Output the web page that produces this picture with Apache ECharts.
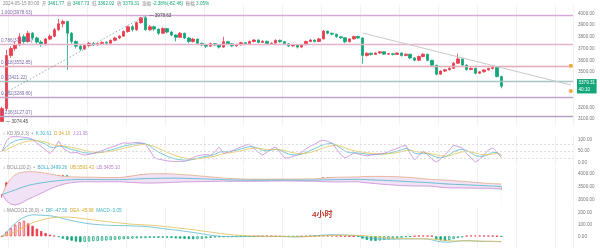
<!DOCTYPE html>
<html><head><meta charset="utf-8">
<script src="https://cdn.jsdelivr.net/npm/echarts/dist/echarts.min.js"></script>
<style>html,body{margin:0;padding:0;background:#fff}#c{width:600px;height:248px}</style>
</head><body><div id="c"></div>
<script>
// ---------- DATA ----------
// candles: [open, close, low, high]
const candles = [
[3080,3190,3074.45,3205],[3190,3640,3170,3690],[3640,3700,3620,3720],[3700,3730,3680,3760],[3730,3800,3720,3830],
[3800,3760,3740,3820],[3760,3830,3750,3850],[3830,3790,3770,3840],[3790,3755,3740,3800],[3755,3735,3715,3770],
[3735,3780,3725,3790],[3780,3805,3770,3820],[3805,3860,3795,3875],[3860,3910,3850,3950],[3910,3930,3880,3945],
[3930,3830,3520,3935],[3830,3760,3740,3840],[3760,3720,3700,3770],[3720,3695,3680,3730],[3695,3725,3690,3735],
[3725,3745,3715,3755],[3745,3730,3720,3755],[3730,3742,3725,3750],[3742,3752,3735,3760],[3752,3745,3738,3762],
[3745,3770,3740,3778],[3770,3790,3762,3800],[3790,3805,3780,3815],[3805,3845,3800,3855],[3845,3885,3835,3895],
[3885,3860,3845,3900],[3860,3920,3850,3930],[3920,3962,3910,3970],[3962,3860,3850,3978.63],[3860,3885,3850,3900],
[3885,3865,3850,3895],[3865,3830,3815,3870],[3830,3870,3825,3880],[3870,3840,3830,3875],[3840,3815,3805,3850],
[3815,3795,3760,3820],[3795,3830,3790,3840],[3830,3790,3780,3835],[3790,3760,3745,3795],[3760,3780,3750,3790],
[3780,3745,3735,3785],[3745,3730,3720,3750],[3730,3720,3705,3740],[3720,3742,3715,3750],[3742,3730,3720,3748],
[3730,3712,3700,3735],[3712,3758,3705,3800],[3758,3740,3730,3765],[3740,3722,3712,3745],[3722,3732,3715,3740],
[3732,3750,3725,3758],[3750,3740,3733,3756],[3740,3760,3735,3768],[3760,3772,3752,3780],[3772,3752,3745,3778],
[3752,3762,3748,3770],[3762,3742,3735,3766],[3742,3746,3735,3752],[3746,3770,3740,3778],[3770,3758,3750,3775],
[3758,3740,3730,3762],[3740,3722,3712,3745],[3722,3732,3715,3738],[3732,3712,3700,3736],[3712,3732,3708,3740],
[3732,3760,3728,3768],[3760,3772,3752,3780],[3772,3760,3752,3778],[3760,3782,3755,3790],[3782,3848,3778,3858],
[3848,3830,3820,3852],[3830,3822,3812,3835],[3822,3800,3792,3826],[3800,3792,3780,3806],[3792,3758,3745,3795],
[3758,3782,3752,3788],[3782,3802,3776,3810],[3802,3790,3782,3808],[3790,3640,3570,3795],[3640,3660,3632,3668],
[3660,3650,3640,3664],[3650,3662,3645,3668],[3662,3672,3655,3678],[3672,3652,3645,3676],[3652,3656,3645,3662],
[3656,3650,3642,3660],[3650,3662,3645,3668],[3662,3640,3632,3666],[3640,3652,3635,3658],[3652,3620,3610,3655],
[3620,3600,3592,3626],[3600,3632,3596,3640],[3632,3652,3626,3660],[3652,3600,3592,3656],[3600,3558,3548,3605],
[3558,3482,3472,3562],[3482,3508,3476,3515],[3508,3520,3500,3528],[3520,3532,3514,3540],[3532,3575,3528,3585],
[3575,3612,3570,3655],[3612,3560,3552,3616],[3560,3522,3512,3565],[3522,3532,3515,3538],[3532,3490,3480,3536],
[3490,3502,3484,3508],[3502,3518,3496,3524],[3518,3530,3512,3536],[3530,3540,3522,3550],[3540,3461.77,3455,3545],
[3461.77,3379.31,3362.02,3467.73]
];
const kdjK = [50,70,85,95,100,102,102,100,95,88, 80,68,64,72,70,64,57,53,48,43, 41,41,43,46,50,55,60,66,72,76,
 79,82,83,82,73,58,46,37,28,21, 16,13,11,11,14,19,24,28,30,36, 46,48,48,50,54,59,65,70,68,62,
 54,51,54,58,55,45,37,34,33,37, 44,53,61,70,78,82,83,76,63,49, 43,43,42,40,37,36,36,37,38,41,
 45,50,56,62,55,41,38,41,39,32, 24,21,25,34,47,55,58,53,43,31, 27,29,36,45,44,30.61];
const kdjD = [50,57,66,75,83,89,93,95,95,93, 89,82,76,75,73,70,66,62,58,53, 49,46,45,45,47,49,53,57,62,67,
 71,75,78,79,77,70,62,54,45,37, 30,24,20,17,16,17,19,22,25,28, 34,39,42,45,48,51,56,61,63,63,
 60,57,56,57,56,53,48,43,40,39, 41,45,50,57,64,70,74,75,71,64, 57,52,49,46,43,41,39,38,38,39,
 41,44,48,53,54,50,46,44,42,39, 34,30,28,30,36,42,47,49,47,42, 37,34,35,38,40,34.10];
const kdjJ = [50,95,112,113,112,110,108,100,85,70, 55,40,60,94,64,50,42,45,38,33, 36,40,46,52,60,66,72,80,86,84,
 86,88,86,80,55,22,15,12,8,6, 5,6,5,12,22,30,33,35,32,48, 68,40,45,52,60,68,76,80,62,45,
 33,45,60,68,45,22,20,28,33,45, 60,72,80,92,98,92,85,60,35,20, 30,42,38,33,30,33,36,38,40,48,
 55,62,70,76,40,12,30,50,35,15, 3,15,35,55,76,70,64,40,20,3, 15,35,55,64,45,21.95];
const bollMid = [3190,3250,3310,3370,3430,3490,3540,3580,3610,3640, 3665,3690,3710,3725,3740,3750,3760,3765,3770,3772,
 3770,3768,3766,3765,3764,3763,3763,3764,3768,3775, 3782,3790,3798,3804,3808,3812,3815,3818,3820,3821,
 3820,3818,3815,3810,3805,3800,3794,3788,3782,3776, 3770,3764,3758,3752,3748,3745,3743,3742,3742,3742,
 3743,3744,3745,3746,3747,3748,3748,3747,3746,3745, 3745,3746,3748,3751,3755,3759,3762,3765,3767,3769,
 3771,3773,3775,3770,3764,3757,3750,3742,3735,3727, 3720,3712,3703,3694,3685,3675,3668,3660,3650,3640,
 3628,3615,3602,3592,3584,3578,3572,3565,3557,3548, 3540,3532,3524,3516,3508,3499.26];
const bollUB = [3190,3560,3800,3950,4030,4060,4070,4068,4060,4040, 4010,3980,3950,3920,3895,3880,3870,3865,3862,3860,
 3858,3856,3852,3848,3845,3843,3842,3845,3860,3885, 3910,3935,3960,3975,3985,3990,3992,3992,3990,3985,
 3975,3965,3950,3940,3930,3915,3900,3885,3870,3855, 3840,3825,3815,3805,3795,3790,3786,3784,3783,3782,
 3782,3782,3782,3783,3784,3785,3786,3786,3786,3786, 3787,3790,3795,3805,3825,3840,3850,3855,3858,3860,
 3862,3864,3866,3880,3885,3888,3890,3890,3888,3886, 3882,3876,3868,3858,3846,3832,3816,3800,3784,3770,
 3765,3758,3748,3736,3722,3710,3700,3690,3675,3660, 3645,3630,3620,3610,3602,3593.42];
const bollLB = [3190,2940,2820,2790,2830,2920,3010,3092,3160,3240, 3320,3400,3470,3530,3585,3620,3650,3665,3678,3684,
 3682,3680,3680,3682,3683,3683,3684,3683,3676,3665, 3654,3645,3636,3633,3631,3634,3638,3644,3650,3657,
 3665,3671,3680,3680,3680,3685,3688,3691,3694,3697, 3700,3703,3701,3699,3701,3700,3700,3700,3701,3702,
 3704,3706,3708,3709,3710,3711,3710,3708,3706,3704, 3703,3702,3701,3697,3685,3678,3674,3675,3676,3678,
 3680,3682,3684,3660,3643,3626,3610,3594,3582,3568, 3558,3548,3538,3530,3524,3518,3520,3520,3516,3510,
 3491,3472,3456,3448,3446,3446,3444,3440,3439,3436, 3435,3434,3428,3422,3414,3405.10];
const macdDIF = [0,35,75,110,140,162,176,183,182,180, 178,175,170,162,152,142,134,126,119,113, 107,103,100,97,95,93,92,91,91,90,
 88,87,86,84,80,76,71,66,61,57, 53,48,43,38,33,27,21,15,9,4, 1,-1,-2,-3,-3,-3,-2,-2,-1,-1,
 -1,-2,-2,-1,-2,-3,-4,-5,-5,-4, -2,1,4,7,10,12,13,13,12,10, 8,7,5,-4,-12,-18,-22,-24,-25,-25,
 -25,-24,-23,-22,-22,-22,-21,-21,-23,-30, -40,-47,-50,-50,-46,-41,-38,-37,-38,-41, -43,-44,-44,-44,-45,-47.50];
const macdDEA = [0,7,20,38,58,79,98,115,128,139, 148,155,160,163,165,164,162,158,154,150, 145,140,135,130,126,122,118,114,110,106,
 103,101,99,97,95,92,89,85,81,77, 73,69,65,60,56,51,46,41,36,31, 26,21,17,13,10,7,5,3,2,1,
 0,0,-1,-1,-1,-2,-2,-3,-3,-3, -3,-2,-1,1,3,5,7,8,9,9, 9,9,8,6,3,0,-4,-8,-11,-14,
 -16,-18,-19,-20,-21,-21,-22,-22,-22,-24, -27,-31,-35,-38,-40,-40,-40,-40,-40,-40, -41,-42,-42,-43,-44,-45.98];
const macdHist = [0,40,70,100,120,133,110,90,65,45, 28,14,5,-5,-20,-30,-38,-45,-50,-48, -45,-42,-40,-38,-36,-33,-30,-28,-25,-22,
 -20,-18,-16,-15,-14,-13,-13,-12,-12,-15, -18,-20,-22,-24,-25,-24,-22,-18,-14,-10, -8,-6,-5,-3,-2,-2,-1,-1,0,1,
 1,2,2,1,0,-1,-2,-2,-1,0, 2,4,6,8,8,7,6,5,3,2, 1,0,-2,-20,-30,-38,-40,-36,-30,-26,
 -22,-18,-12,-6,-3,2,4,5,4,2, -25,-35,-40,-32,-24,-15,-8,4,6,7, 6,5,4,3,2,-3.05];
const fibRatios = ['1.000','0.786','0.618','0.5','0.382','0.236'];
const fibValues = [3978.63, 3740.13, 3552.85, 3421.22, 3289.80, 3127.07];
const peakValue = 3978.63, peakIndex = 33;
const lowValue = 3074.45, lowIndex = 0;
const lastPrice = 3379.31, countdown = '40:10';
const swingStart = [0, 3310], swingEnd = [33, 3978.63];
const trendStart = [83, 3832], trendEnd = [131, 3390];
const alertValues = [3552.85, 3340];
const slotCount = 132;
const categories = Array.from({length: slotCount}, (_, i) => 'T' + i);

// ---------- STYLE ----------
const RED = '#ea3c4c', GREEN = '#14a67b';
const FS = 4.6;
const FF = '"Liberation Sans", "Noto Sans CJK SC", sans-serif';
const fibColors = ['#d8a8da', '#e6b3cc', '#e4adb5', '#a9c2c2', '#c3a4cc', '#b99ec4'];
const grids = [
  {left: 0, right: 27, top: 5, height: 120},
  {left: 0, right: 27, top: 135, height: 30},
  {left: 0, right: 27, top: 167, height: 39},
  {left: 0, right: 27, top: 207, height: 42}
];
const xAxes = grids.map((g, i) => ({
  gridIndex: i, type: 'category', data: categories, boundaryGap: true,
  axisLine: {show: false}, axisTick: {show: false}, axisLabel: {show: false},
  splitLine: {show: true, interval: (idx) => (idx - 2) % 9 === 0, lineStyle: {color: '#f1f1f1', width: 1}}
}));
function yAx(gi, min, max, interval, shown) {
  return {
    gridIndex: gi, type: 'value', position: 'right', min, max, interval,
    axisLine: {show: false}, axisTick: {show: false}, splitLine: {show: false},
    axisLabel: {fontSize: FS, fontFamily: FF, color: '#777', margin: 5,
      formatter: v => shown.indexOf(Math.round(v)) >= 0 ? v.toFixed(2) : ''}
  };
}
const yAxes = [
  yAx(0, 3050, 4070, 10, [3100, 3200, 3500, 3600, 3700, 3800, 3900, 4000]),
  yAx(1, -10, 120, 10, [0, 50, 100]),
  yAx(2, 2750, 4250, 250, [3000, 3500, 4000]),
  yAx(3, -100, 250, 50, [0, 100, 200])
];
const rich = {
  g: {fontSize: FS, fontFamily: FF, color: '#8a8a8a'},
  gr: {fontSize: FS, fontFamily: FF, color: GREEN},
  t: {fontSize: FS, fontFamily: FF, color: '#3fb0c0'},
  y: {fontSize: FS, fontFamily: FF, color: '#d9a92a'},
  p: {fontSize: FS, fontFamily: FF, color: '#b77fd0'}
};
function ttl(text, left, top) {
  return {text, left, top, padding: 0, textStyle: {fontSize: FS, fontFamily: FF, fontWeight: 'normal', rich}};
}
const titles = [
  ttl('{g|2024-05-15 00:00}  {g|开} {gr|3461.77}  {g|高} {gr|3467.73}  {g|低} {gr|3362.02}  {g|收} {gr|3379.31}  {g|涨幅} {gr|-2.38%(-82.46)}  {g|振幅} {gr|3.05%}', 3, 1),
  ttl('{g|○ KDJ(9,3,3)}  {g|•}  {t|K:30.61}  {y|D:34.10}  {p|J:21.95}', 3, 131.5),
  ttl('{g|○ BOLL(20,2)}  {g|•}  {t|BOLL:3499.26}  {y|UB:3593.42}  {p|LB:3405.10}', 3, 165.5),
  ttl('{g|○ MACD(12,26,9)}  {g|•}  {t|DIF:-47.50}  {y|DEA:-45.98}  {t|MACD:-3.05}', 3, 208.5),
  {text: '4小时', left: 312, top: 211, padding: 0, textStyle: {fontSize: 8, fontFamily: FF, color: '#c4392f', fontWeight: 'bold'}}
];

const fibLines = fibValues.map((v, i) => ({
  yAxis: v,
  lineStyle: {color: fibColors[i], width: 1.4, type: 'solid'},
  label: {show: true, position: 'insideStartTop', distance: 1, formatter: fibRatios[i] + '(' + v.toFixed(2) + ')',
          fontSize: FS, fontFamily: FF, color: '#7d6aa6'}
}));
const mainMarkLines = fibLines.concat([
  [{coord: swingStart, lineStyle: {color: '#93aac4', width: 1, type: [1.5, 2]}}, {coord: swingEnd}],
  [{coord: trendStart, lineStyle: {color: '#c9c9c9', width: 1, type: 'solid'}}, {coord: trendEnd}]
]);

const histData = macdHist.map((v, i) => {
  const prev = i > 0 ? macdHist[i - 1] : 0;
  let st;
  if (v >= 0) st = v >= prev ? {color: '#fff', borderColor: RED, borderWidth: 0.8} : {color: RED, borderColor: RED, borderWidth: 0.8};
  else st = v <= prev ? {color: GREEN, borderColor: GREEN, borderWidth: 0.8} : {color: '#fff', borderColor: GREEN, borderWidth: 0.8};
  return {value: v, itemStyle: st};
});

const lineS = (name, data, xi, color, extra) => Object.assign({
  name, type: 'line', data, xAxisIndex: xi, yAxisIndex: xi, showSymbol: false, symbol: 'none',
  lineStyle: {color, width: 0.8}, itemStyle: {color}, silent: true, animation: false
}, extra || {});

const option = {
  animation: false,
  backgroundColor: '#ffffff',
  title: titles,
  grid: grids,
  xAxis: xAxes,
  yAxis: yAxes,
  series: [
    {
      type: 'candlestick', data: candles, xAxisIndex: 0, yAxisIndex: 0, barWidth: 3,
      itemStyle: {color: RED, color0: GREEN, borderColor: RED, borderColor0: GREEN, borderWidth: 0.8},
      markLine: {symbol: ['none', 'none'], silent: true, animation: false, data: mainMarkLines},
      markPoint: {
        silent: true, animation: false,
        data: [
          {coord: [peakIndex, peakValue], symbol: 'circle', symbolSize: 1, itemStyle: {color: 'rgba(0,0,0,0)'},
           label: {show: true, position: 'right', distance: 3, formatter: '— ' + peakValue.toFixed(2), fontSize: FS, fontFamily: FF, color: '#444'}},
          {coord: [lowIndex, lowValue], symbol: 'circle', symbolSize: 1, itemStyle: {color: 'rgba(0,0,0,0)'},
           label: {show: true, position: 'right', distance: 3, formatter: '— ' + lowValue.toFixed(2), fontSize: FS, fontFamily: FF, color: '#444'}},
          {coord: [slotCount - 1, alertValues[0]], symbol: 'circle', symbolSize: 4, itemStyle: {color: '#f2a93b'}, label: {show: false}},
          {coord: [slotCount - 1, alertValues[1]], symbol: 'circle', symbolSize: 4, itemStyle: {color: '#f2a93b'}, label: {show: false}}
        ]
      }
    },
    // invisible carrier for the last-price tag on the right axis
    {
      type: 'line', xAxisIndex: 0, yAxisIndex: 0, data: [], silent: true,
      markLine: {symbol: ['none', 'none'], silent: true, animation: false,
        data: [{yAxis: lastPrice, lineStyle: {color: 'rgba(255,255,255,0)', width: 0.1},
          label: {show: true, position: 'end', distance: 4, formatter: '{a|' + lastPrice.toFixed(2) + '}\n{a|' + countdown + '}',
                  backgroundColor: GREEN, color: '#fff', padding: [1, 1.5, 1, 1.5],
                  rich: {a: {fontSize: FS, fontFamily: FF, color: '#fff', lineHeight: 6.2}}}}]}
    },
    lineS('K', kdjK, 1, '#56bccb', {markLine: {symbol: ['none', 'none'], silent: true, animation: false, label: {show: false},
      lineStyle: {color: '#d6d6d6', type: [2, 2], width: 0.8}, data: [{yAxis: 80}, {yAxis: 50}, {yAxis: 20}]}}),
    lineS('D', kdjD, 1, '#e2c452'),
    lineS('J', kdjJ, 1, '#c48ad9'),
    lineS('UB', bollUB, 2, '#e2ab86', {areaStyle: {color: '#f1e2f6', opacity: 1}}),
    lineS('LB', bollLB, 2, '#c68ad6', {areaStyle: {color: '#ffffff', opacity: 1}}),
    lineS('BOLL', bollMid, 2, '#4db5c6'),
    {
      type: 'candlestick', data: candles, xAxisIndex: 2, yAxisIndex: 2, barWidth: 1.6, silent: true,
      itemStyle: {color: RED, color0: GREEN, borderColor: RED, borderColor0: GREEN, borderWidth: 0.6}
    },
    {type: 'bar', data: histData, xAxisIndex: 3, yAxisIndex: 3, barWidth: 2.4, silent: true, animation: false},
    lineS('DIF', macdDIF, 3, '#5ab9c9'),
    lineS('DEA', macdDEA, 3, '#e3bd55')
  ]
};
const chart = echarts.init(document.getElementById('c'), null, {renderer: 'canvas'});
chart.setOption(option);
</script>
</body></html>
